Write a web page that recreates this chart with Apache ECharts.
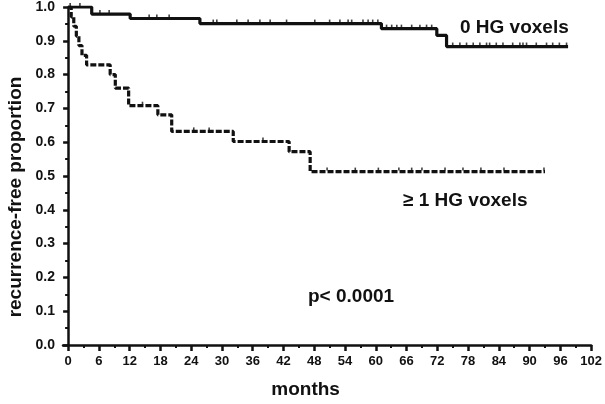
<!DOCTYPE html>
<html>
<head>
<meta charset="utf-8">
<script src="https://cdn.jsdelivr.net/npm/echarts@6/dist/echarts.min.js"></script>
<style>
html,body{margin:0;padding:0;background:#fff;}
#chart{width:605px;height:404px;}
</style>
</head>
<body>
<div id="chart"></div>
<script>
// ---- data ----
var xTicks = [0,6,12,18,24,30,36,42,48,54,60,66,72,78,84,90,96,102];
var xMinorTicks = [3,9,15,21,27,33,39,45,51,57,63,69,75,81,87,93,99];
var yTicks = [0,0.1,0.2,0.3,0.4,0.5,0.6,0.7,0.8,0.9,1.0];

// Kaplan-Meier steps: [month, proportion after event]
var hg0Times  = [0, 4.6, 12.1, 25.7, 61.1, 71.9, 73.8, 97.5];
var hg0Values = [1.0, 0.979, 0.966, 0.951, 0.936, 0.916, 0.883, 0.883];
var hg0Censored = [0.4, 2.3, 6.2, 8.0, 15.8, 17.3, 19.7, 28.3, 29.0, 32.9, 35.1, 37.4, 39.4, 42.6, 48.1,
  51.0, 53.0, 54.6, 55.3, 57.5, 58.5, 59.4, 60.4, 62.1, 63.1, 64.1, 65.0, 67.0, 68.6, 69.9, 70.9,
  75.0, 76.4, 77.7, 79.0, 80.3, 81.6, 82.2, 83.5, 84.8, 86.7, 88.1, 88.7, 89.4, 91.3, 93.3, 94.5, 95.8, 97.2];

var hg1Times  = [0, 0.6, 1.1, 1.6, 2.1, 2.7, 3.6, 8.2, 9.2, 11.8, 17.5, 20.2, 32.2, 43.1, 47.2, 93.0];
var hg1Values = [1.0, 0.971, 0.943, 0.914, 0.886, 0.857, 0.829, 0.800, 0.760, 0.708, 0.681, 0.632, 0.602, 0.572, 0.513, 0.513];
var hg1Censored = [14.5, 24.5, 27.5, 38.0, 50.5, 56.0, 60.5, 64.5, 67.0, 69.0, 73.5, 77.0, 80.5, 85.0, 92.8];

var seriesNames = ['0 HG voxels', '\u2265 1 HG voxels'];
var yTitle = 'recurrence-free proportion';
var xTitle = 'months';
var pText = 'p< 0.0001';

function pairs(t, v){ return t.map(function(x,i){ return [x, v[i]]; }); }
function levelAt(t, v, x){ var y = v[0]; for (var i=0;i<t.length;i++){ if (t[i] <= x) y = v[i]; } return y; }
function censorPts(t, v, c){ return c.map(function(x){ return [x, levelAt(t, v, x)]; }); }

var fam = '"Liberation Sans", Arial, sans-serif';
var chart = echarts.init(document.getElementById('chart'), null, {renderer:'canvas'});
var option = {
  backgroundColor: '#ffffff',
  animation: false,
  grid: {left: 63, right: 13, top: 7, bottom: 57, containLabel: false},
  xAxis: [{
    type: 'value', min: -1, max: 102,
    name: xTitle, nameLocation: 'middle', nameGap: 35,
    nameTextStyle: {fontFamily: 'Liberation Sans', fontWeight: 'bold', fontSize: 19, color: '#111', padding: [0, 43, 0, 0]},
    axisLine: {show: true, lineStyle: {color: '#111', width: 2.5}},
    axisTick: {show: true, customValues: xTicks, length: 6, lineStyle: {color: '#111', width: 2.5}},
    axisLabel: {show: true, customValues: xTicks, margin: 10, fontFamily: 'Liberation Sans', fontWeight: 'bold', fontSize: 13, color: '#111'},
    splitLine: {show: false}
  }, {
    type: 'value', min: -1, max: 102, position: 'bottom',
    axisLine: {show: false},
    axisTick: {show: true, customValues: xMinorTicks, length: 3, lineStyle: {color: '#111', width: 2}},
    axisLabel: {show: false, customValues: xMinorTicks},
    splitLine: {show: false}
  }],
  yAxis: {
    type: 'value', min: 0, max: 1, interval: 0.1,
    axisLine: {show: true, lineStyle: {color: '#111', width: 2.5}},
    axisTick: {show: true, length: 5, lineStyle: {color: '#111', width: 2.5}},
    minorTick: {show: true, splitNumber: 2, length: 3, lineStyle: {color: '#111', width: 2}},
    axisLabel: {margin: 8, fontFamily: 'Liberation Sans', fontWeight: 'bold', fontSize: 14, color: '#111',
      formatter: function(v){ return v.toFixed(1); }},
    splitLine: {show: false}, minorSplitLine: {show: false}
  },
  series: [{
    name: seriesNames[0], type: 'line', step: 'end', xAxisIndex: 0,
    data: pairs(hg0Times, hg0Values), showSymbol: false, symbol: 'none',
    lineStyle: {color: '#111', width: 3.2, type: 'solid'}, z: 3
  }, {
    name: seriesNames[1], type: 'line', step: 'end', xAxisIndex: 0,
    data: pairs(hg1Times, hg1Values), showSymbol: false, symbol: 'none',
    lineStyle: {color: '#111', width: 3.2, type: [6, 2]}, z: 3
  }, {
    name: seriesNames[0] + ' censored', type: 'scatter', xAxisIndex: 0,
    data: censorPts(hg0Times, hg0Values, hg0Censored),
    symbol: 'rect', symbolSize: [1.6, 3], symbolOffset: [0, -2.5],
    itemStyle: {color: '#111'}, z: 4
  }, {
    name: seriesNames[1] + ' censored', type: 'scatter', xAxisIndex: 0,
    data: censorPts(hg1Times, hg1Values, hg1Censored),
    symbol: 'rect', symbolSize: [1.6, 3], symbolOffset: [0, -2.5],
    itemStyle: {color: '#111'}, z: 4
  }],
  graphic: [
    {type: 'text', x: 16, y: 197, rotation: Math.PI / 2,
      style: {text: yTitle, font: 'bold 19px ' + fam, fill: '#111', align: 'center', verticalAlign: 'middle', textAlign: 'center', textVerticalAlign: 'middle'}},
    {type: 'text', left: 460, top: 18, style: {text: seriesNames[0], font: 'bold 19px ' + fam, fill: '#111'}},
    {type: 'text', left: 403, top: 191, style: {text: seriesNames[1], font: 'bold 19px ' + fam, fill: '#111'}},
    {type: 'text', left: 308, top: 287, style: {text: pText, font: 'bold 19px ' + fam, fill: '#111'}}
  ]
};
chart.setOption(option);
</script>
</body>
</html>
